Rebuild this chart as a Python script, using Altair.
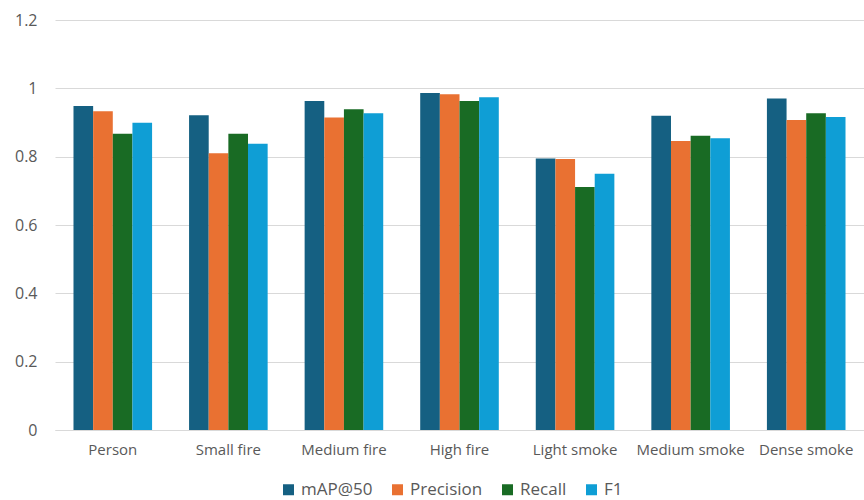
import altair as alt
import pandas as pd

classes = ["Person", "Small fire", "Medium fire", "High fire",
           "Light smoke", "Medium smoke", "Dense smoke"]
metrics = ["mAP@50", "Precision", "Recall", "F1"]

map50 = [0.948, 0.921, 0.963, 0.986, 0.795, 0.920, 0.970]
precision = [0.933, 0.810, 0.915, 0.983, 0.793, 0.846, 0.907]
recall = [0.867, 0.867, 0.939, 0.963, 0.711, 0.861, 0.927]
f1 = [0.899, 0.838, 0.927, 0.974, 0.750, 0.854, 0.916]

colors = ["#156082", "#E97132", "#196B24", "#0F9ED5"]

rows = []
for name, series in zip(metrics, [map50, precision, recall, f1]):
    for cls, v in zip(classes, series):
        rows.append({"class": cls, "metric": name, "value": v})
df = pd.DataFrame(rows)

font = "Open Sans"
text_color = "#595959"

chart = alt.Chart(df).mark_bar().encode(
    x=alt.X("class:N", sort=classes, title=None,
            scale=alt.Scale(paddingInner=0.32, paddingOuter=0.16),
            axis=alt.Axis(labelAngle=0, ticks=False, domain=True,
                          domainColor="#d9d9d9", labelPadding=12,
                          labelFontSize=15, labelFont=font,
                          labelColor=text_color)),
    xOffset=alt.XOffset("metric:N", sort=metrics),
    y=alt.Y("value:Q", title=None,
            scale=alt.Scale(domain=[0, 1.2], nice=False),
            axis=alt.Axis(values=[0, 0.2, 0.4, 0.6, 0.8, 1.0, 1.2],
                          format=".1~f", ticks=False, domain=False,
                          gridColor="#d9d9d9", gridWidth=1,
                          labelPadding=18, labelFontSize=16,
                          labelFont=font, labelColor=text_color)),
    color=alt.Color("metric:N", sort=metrics,
                    scale=alt.Scale(domain=metrics, range=colors),
                    legend=alt.Legend(title=None, orient="none",
                                      direction="horizontal",
                                      legendX=225, legendY=461,
                                      symbolType="square", symbolSize=121,
                                      symbolStrokeWidth=0,
                                      labelFontSize=17, labelFont=font,
                                      labelColor=text_color,
                                      columnPadding=16, labelOffset=4)),
).properties(
    width=809,
    height=410,
    autosize=alt.AutoSizeParams(type="none"),
    padding={"left": 55, "top": 20, "right": 0, "bottom": 70},
).configure_view(stroke=None)

chart.save("out.html", embed_options={"renderer": "svg", "actions": False})
